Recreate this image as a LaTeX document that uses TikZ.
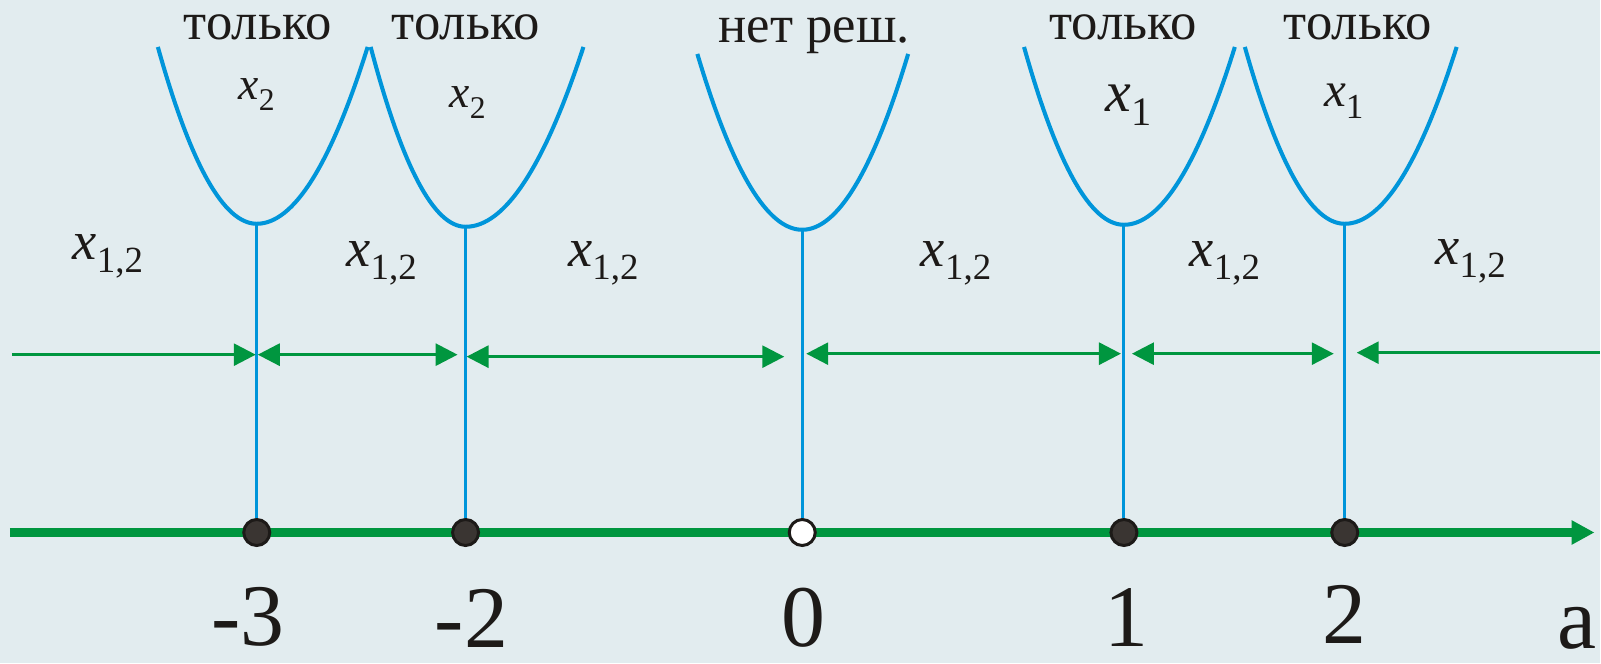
\documentclass[tikz,border=0pt]{standalone}
\usepackage{fontspec}
\setmainfont{Liberation Serif}
\usetikzlibrary{arrows.meta}
\definecolor{bgcol}{HTML}{E2ECEF}
\definecolor{parcol}{HTML}{0095DA}
\definecolor{axcol}{HTML}{00963F}
\definecolor{dotcol}{HTML}{3A3532}
\definecolor{inkcol}{HTML}{1D1A18}

\newcommand{\xvar}[3]{{\fontsize{#1}{#1}\selectfont\textit{x}\raisebox{-.24em}{\fontsize{#2}{#2}\selectfont #3}}}
\newcommand{\cupat}[5]{\draw[cup] ({#1-#3},#5) .. controls ({#1-2*#3/3},{#5+2*(#2-#5)/3}) and ({#1-#3/3},#2) .. (#1,#2)
  .. controls ({#1+#4/3},#2) and ({#1+2*#4/3},{#5+2*(#2-#5)/3}) .. ({#1+#4},#5);}

\tikzset{
  dotpt/.style={circle, draw=inkcol, fill=dotcol, line width=0.85pt, minimum size=0.26cm, inner sep=0pt},
  openpt/.style={dotpt, fill=white},
  stem/.style={draw=parcol, line width=0.85pt},
  cup/.style={draw=parcol, line width=1.15pt},
  axisline/.style={draw=axcol, line width=2.3pt, -{Triangle[length=0.23cm, width=0.23cm]}},
  arr/.style={draw=axcol, line width=0.85pt},
  tipr/.style={arr, -{Triangle[length=0.22cm, width=0.22cm]}},
  tipl/.style={arr, {Triangle[length=0.22cm, width=0.22cm]}-},
  tipb/.style={arr, {Triangle[length=0.22cm, width=0.22cm]}-{Triangle[length=0.22cm, width=0.22cm]}},
  lbl/.style={anchor=base, inner sep=0pt, text=inkcol},
  word/.style={lbl, font=\fontsize{15pt}{15pt}\selectfont},
  num/.style={lbl, font=\fontsize{25pt}{25pt}\selectfont}
}

\begin{document}
\begin{tikzpicture}[x=0.01cm, y=-0.01cm]
  \fill[bgcol] (0,0) rectangle (1601,664);

  \coordinate (ax0) at (10,533);
  \coordinate (ax1) at (1596,533);
  \draw[axisline] (ax0) -- (ax1);

  \coordinate (vm3) at (257,224);
  \coordinate (vm2) at (466,227);
  \coordinate (v0) at (803,230);
  \coordinate (v1) at (1125,225);
  \coordinate (v2) at (1346,224);

  \cupat{257}{224}{99}{111}{47}
  \cupat{466}{227}{95}{118}{47}
  \cupat{803}{230}{105}{106}{54}
  \cupat{1125}{225}{100}{111}{47}
  \cupat{1346}{224}{100}{112}{47}

  \node[dotpt] (pm3) at (257,533) {};
  \node[dotpt] (pm2) at (466,533) {};
  \node[openpt] (p0) at (803,533) {};
  \node[dotpt] (p1) at (1125,533) {};
  \node[dotpt] (p2) at (1346,533) {};

  \draw[stem] (pm3) -- (vm3);
  \draw[stem] (pm2) -- (vm2);
  \draw[stem] (p0) -- (v0);
  \draw[stem] (p1) -- (v1);
  \draw[stem] (p2) -- (v2);

  \coordinate (s1) at (12,355);   \coordinate (e1) at (256,355);
  \coordinate (s2) at (258,355);  \coordinate (e2) at (458,355);
  \coordinate (s3) at (467,357);  \coordinate (e3) at (785,357);
  \coordinate (s4) at (807,354);  \coordinate (e4) at (1122,354);
  \coordinate (s5) at (1133,354); \coordinate (e5) at (1335,354);
  \coordinate (s6) at (1358,353); \coordinate (e6) at (1601,353);
  \draw[tipr] (s1) -- (e1);
  \draw[tipb] (s2) -- (e2);
  \draw[tipb] (s3) -- (e3);
  \draw[tipb] (s4) -- (e4);
  \draw[tipb] (s5) -- (e5);
  \draw[tipl] (s6) -- (e6);

  \node[word] (t1) at (258,40) {только};
  \node[word] (t2) at (466,40) {только};
  \node[word] (t0) at (815,43) {нет реш.};
  \node[word] (t3) at (1124,40) {только};
  \node[word] (t4) at (1359,40) {только};

  \node[lbl] (in1) at (257,100) {\xvar{13pt}{9pt}{2}};
  \node[lbl] (in2) at (468,108) {\xvar{13pt}{9pt}{2}};
  \node[lbl] (in3) at (1130,112) {\xvar{16.5pt}{11.5pt}{1}};
  \node[lbl] (in4) at (1345,107) {\xvar{14pt}{10pt}{1}};

  \node[lbl] (out1) at (108,260) {\xvar{15.5pt}{10.5pt}{1,2}};
  \node[lbl] (out2) at (382,267) {\xvar{15.5pt}{10.5pt}{1,2}};
  \node[lbl] (out3) at (604,267) {\xvar{15.5pt}{10.5pt}{1,2}};
  \node[lbl] (out4) at (957,267) {\xvar{15.5pt}{10.5pt}{1,2}};
  \node[lbl] (out5) at (1226,267) {\xvar{15.5pt}{10.5pt}{1,2}};
  \node[lbl] (out6) at (1472,265) {\xvar{15.5pt}{10.5pt}{1,2}};

  \node[num] (nm3) at (248,646) {-3};
  \node[num] (nm2) at (472,648) {-2};
  \node[num] (n0) at (804,647) {0};
  \node[num] (n1) at (1128,647) {1};
  \node[num] (n2) at (1346,644) {2};
  \node[num] (na) at (1578,649) {a};
\end{tikzpicture}
\end{document}
